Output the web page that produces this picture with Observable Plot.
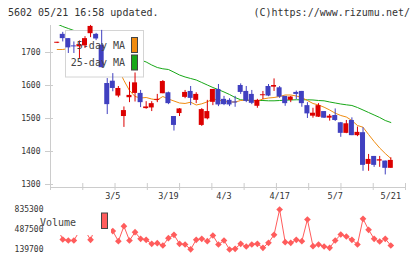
<!DOCTYPE html>
<html><head><meta charset="utf-8">
<script src="https://cdn.jsdelivr.net/npm/d3@7"></script>
<script src="https://cdn.jsdelivr.net/npm/@observablehq/plot@0.6"></script>
<style>
html,body{margin:0;padding:0;background:#fff;}
#wrap{position:relative;width:420px;height:259px;overflow:hidden;font-family:'DejaVu Sans Mono',monospace;background:#fff;}
.hdr{position:absolute;top:6px;font-size:10px;color:#333;white-space:pre;line-height:14px;}
#main,#vol{position:absolute;left:0;}
#main{top:0;} #vol{top:206px;}
</style></head><body>
<div id="wrap">
<div id="main"></div><div id="vol"></div>
<div class="hdr" style="left:8px">5602 05/21 16:58 updated.</div>
<div class="hdr" style="right:10px">(C)https://www.rizumu.net/</div>
</div>
<script>
const tickLabels = ["3/5","3/19","4/3","4/17","5/7","5/21"];
const tickIndex = [10,20,30,40,50,60];
const seriesNames = ["5-day MA","25-day MA"];
const volumeName = "Volume";
const priceTicks = [1300,1400,1500,1600,1700];
const volumeTicks = [835300,487500,139700];

const open  = [1728,1755,1742,1720,1717,1720,1757,1755,1722,1606,1613,1568,1506,1563,1576,1576,1530,1532,1555,1575,1578,1506,1515,1564,1582,1555,1479,1499,1549,1588,1558,1555,1550,1600,1582,1573,1537,1569,1597,1595,1593,1567,1555,1579,1582,1539,1507,1504,1521,1501,1509,1487,1455,1494,1448,1457,1361,1385,1371,1371,1349];
const high  = [1731,1761,1742,1732,1735,1748,1782,1758,1767,1621,1636,1597,1535,1610,1638,1585,1551,1551,1573,1615,1580,1506,1530,1585,1597,1578,1530,1555,1588,1603,1567,1560,1567,1605,1597,1585,1558,1582,1603,1620,1597,1567,1567,1583,1582,1548,1531,1545,1521,1512,1529,1488,1494,1502,1474,1472,1391,1385,1385,1371,1381];
const low   = [1727,1732,1697,1697,1682,1712,1745,1736,1654,1512,1581,1563,1473,1548,1550,1533,1528,1521,1548,1575,1542,1462,1506,1560,1539,1545,1476,1496,1539,1536,1539,1536,1534,1573,1548,1542,1531,1557,1566,1582,1561,1537,1548,1557,1534,1500,1501,1503,1500,1492,1491,1443,1454,1448,1445,1340,1340,1352,1352,1329,1349];
const close = [1731,1742,1714,1717,1724,1742,1779,1741,1654,1542,1591,1591,1524,1570,1608,1548,1535,1545,1558,1612,1545,1479,1529,1579,1561,1573,1527,1521,1588,1541,1542,1541,1547,1579,1552,1546,1555,1572,1568,1600,1565,1545,1565,1573,1545,1514,1516,1539,1501,1507,1494,1455,1484,1448,1458,1358,1376,1358,1375,1349,1373];
const ma5   = [1709.1,1709.1,1712,1716,1720,1725,1735,1740,1735,1712,1680,1650,1615.2,1584.8,1566.7,1562.1,1563.6,1559.1,1556.1,1566.7,1559.1,1553.0,1547.0,1545.5,1549.4,1540.9,1544.5,1550.6,1559.1,1556.1,1551.5,1550.0,1550.0,1554.5,1556.1,1554.5,1553.0,1559.1,1562.1,1563.6,1566.7,1571.2,1571.2,1568.2,1563.6,1554.5,1545.5,1540.9,1534.2,1525.8,1516.1,1509.1,1504.5,1493.9,1478.8,1473.6,1451.5,1430.3,1410.6,1393.9,1378.8];
const ma25  = [1786.4,1778.8,1772.7,1766.7,1760.6,1754.5,1748.5,1742.4,1733.3,1724.2,1715.2,1706.1,1697.0,1690.9,1684.8,1677.3,1671.2,1662.1,1654.5,1650.6,1648.5,1640.3,1631.8,1625.8,1621.2,1616.7,1609.1,1601.5,1593.9,1587.3,1580.3,1572.7,1563.6,1556.7,1555.2,1554.5,1554.5,1554.5,1553.6,1553.6,1554.5,1555.5,1556.1,1556.7,1556.7,1556.7,1556.1,1554.5,1553.6,1550.0,1547.0,1543.9,1541.5,1539.4,1533.3,1525.8,1518.2,1510.6,1503.0,1493.9,1487.9];
const volume = [520000,313600,296200,296200,460000,470000,308400,560000,610000,520000,460000,284000,544900,296200,440500,325800,308400,238800,249300,209300,336200,395300,238800,226700,142000,308400,325800,284000,383200,226700,296200,139700,151900,238800,191900,226700,238800,169300,256200,395300,835300,266600,256200,308400,284000,661400,197100,226700,191900,169300,296200,400600,365800,308400,226700,673600,482300,325800,278800,325800,209300];

const RED = "#dc0000", BLUE = "#4040c0", ORANGE = "#f08c10", GREEN = "#18a818", VOL = "#ff5c5c";
const AXIS = "#cccccc", TEXT = "#333333", FONT = "'DejaVu Sans Mono', monospace";
const xDomain = [-1.205, 62.64];
const yDomain = [1290.9, 1781.8];
const vDomain = [139700, 835300];

const candles = d3.range(open.length).map(i => ({i, o: open[i], h: high[i], l: low[i], c: close[i]}));
const up = d => d.c >= d.o, down = d => d.c < d.o;
const ma5Data = ma5.map((v, i) => ({i, v}));
const ma25Data = ma25.map((v, i) => ({i, v}));
const volData = volume.map((v, i) => ({i, v}));
const xTickPos = d3.range(12).map(k => xDomain[0] + k * (xDomain[1] - xDomain[0]) / 11);
const style = {fontFamily: FONT, fontSize: "8px", color: TEXT, background: "transparent", overflow: "visible"};

function legendBox() {
  const g = d3.create("svg:g");
  g.append("rect").attr("x", 65.5).attr("y", 30.5).attr("width", 78).attr("height", 46.5)
    .attr("fill", "#fff").attr("stroke", "#d4d4d4");
  return g.node();
}
function legendItems() {
  const g = d3.create("svg:g").attr("font-family", FONT).attr("font-size", 10).attr("fill", "#444");
  const rows = [{name: seriesNames[0], color: ORANGE, y: 45}, {name: seriesNames[1], color: GREEN, y: 62.5}];
  for (const r of rows) {
    g.append("text").attr("x", 125).attr("y", r.y).attr("dy", "0.35em").attr("text-anchor", "end").text(r.name);
    g.append("rect").attr("x", 131.5).attr("y", r.y - 7.5).attr("width", 6).attr("height", 15)
      .attr("fill", r.color).attr("stroke", "#444");
  }
  return g.node();
}
function volLegend() {
  const g = d3.create("svg:g");
  g.append("rect").attr("x", 52).attr("y", -1).attr("width", 59).attr("height", 30).attr("fill", "#fff");
  g.append("text").attr("x", 58).attr("y", 16.5).attr("dy", "0.35em").attr("font-family", FONT)
    .attr("font-size", 10).attr("fill", "#444").text(volumeName);
  g.append("rect").attr("x", 101.5).attr("y", 7).attr("width", 6).attr("height", 15.5)
    .attr("fill", VOL).attr("stroke", "#444");
  return g.node();
}

const main = Plot.plot({
  width: 420, height: 206, marginTop: 25, marginBottom: 19, marginLeft: 50, marginRight: 15,
  x: {type: "linear", domain: xDomain},
  y: {type: "linear", domain: yDomain},
  style,
  marks: [
    Plot.line(ma25Data, {x: "i", y: "v", stroke: GREEN, strokeWidth: 1, clip: true}),
    Plot.line(ma5Data, {x: "i", y: "v", stroke: ORANGE, strokeWidth: 1, clip: true}),
    legendBox,
    Plot.ruleX(candles, {filter: up, x: "i", y1: "l", y2: "h", stroke: RED}),
    Plot.ruleX(candles, {filter: down, x: "i", y1: "l", y2: "h", stroke: BLUE}),
    Plot.rect(candles, {filter: up, x1: d => d.i - 0.45, x2: d => d.i + 0.45, y1: "o", y2: "c", fill: RED}),
    Plot.rect(candles, {filter: down, x1: d => d.i - 0.45, x2: d => d.i + 0.45, y1: "o", y2: "c", fill: BLUE}),
    legendItems,
    Plot.ruleX([xDomain[0]], {stroke: AXIS}),
    Plot.ruleY([yDomain[0]], {stroke: AXIS}),
    Plot.axisY({ticks: priceTicks, tickSize: 8, dx: 3, tickFormat: () => "", stroke: AXIS, label: null}),
    Plot.text(priceTicks, {y: d => d, text: d => String(d), frameAnchor: "left", dx: -10, textAnchor: "end", fill: TEXT, fontSize: 8}),
    Plot.axisX({ticks: xTickPos, tickSize: 7, dy: -4, tickFormat: () => "", stroke: AXIS, label: null}),
    Plot.text(tickIndex, {x: d => d, text: (d, i) => tickLabels[i], frameAnchor: "bottom", dy: 11, fill: TEXT, fontSize: 8.5})
  ]
});
document.getElementById("main").appendChild(main);

const vol = Plot.plot({
  width: 420, height: 53, marginTop: 3, marginBottom: 10, marginLeft: 50, marginRight: 15,
  x: {type: "linear", domain: xDomain, axis: null},
  y: {type: "linear", domain: vDomain, axis: null},
  style,
  marks: [
    Plot.line(volData, {x: "i", y: "v", stroke: VOL, strokeWidth: 1}),
    Plot.dot(volData, {x: "i", y: "v", symbol: "diamond2", r: 3, fill: VOL, stroke: "none"}),
    volLegend,
    Plot.text(volumeTicks, {y: d => d, text: d => String(d), frameAnchor: "left", dx: -7, textAnchor: "end", fill: TEXT, fontSize: 8})
  ]
});
document.getElementById("vol").appendChild(vol);
</script>
</body></html>
